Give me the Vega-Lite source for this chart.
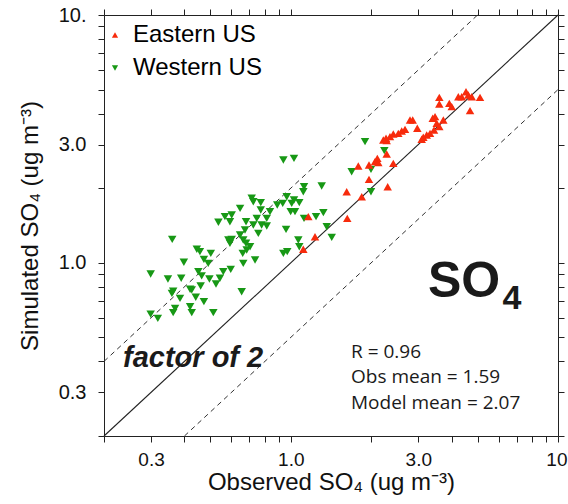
{
  "$schema": "https://vega.github.io/schema/vega-lite/v6.json",
  "width": 454,
  "height": 421,
  "autosize": {"type": "none"},
  "padding": {"left": 104, "top": 15, "right": 10, "bottom": 68},
  "background": "white",
  "config": {
    "view": {"stroke": null},
    "font": "Liberation Sans",
    "axis": {
      "domainColor": "#222",
      "tickColor": "#222",
      "labelColor": "#111",
      "titleColor": "#111",
      "labelFont": "Liberation Sans",
      "titleFont": "Liberation Sans",
      "labelFontSize": 20,
      "titleFontSize": 24,
      "titleFontWeight": "normal",
      "grid": false,
      "tickSize": 6
    }
  },
  "datasets": {
    "obs": [
      {"region": "Western US", "obs": 0.360, "sim": 1.244},
      {"region": "Western US", "obs": 0.299, "sim": 0.901},
      {"region": "Western US", "obs": 0.347, "sim": 0.860},
      {"region": "Western US", "obs": 0.389, "sim": 0.866},
      {"region": "Western US", "obs": 0.398, "sim": 1.005},
      {"region": "Western US", "obs": 0.445, "sim": 1.134},
      {"region": "Western US", "obs": 0.457, "sim": 1.109},
      {"region": "Western US", "obs": 0.502, "sim": 1.092},
      {"region": "Western US", "obs": 0.473, "sim": 1.033},
      {"region": "Western US", "obs": 0.491, "sim": 0.995},
      {"region": "Western US", "obs": 0.451, "sim": 0.921},
      {"region": "Western US", "obs": 0.464, "sim": 0.885},
      {"region": "Western US", "obs": 0.496, "sim": 0.860},
      {"region": "Western US", "obs": 0.543, "sim": 0.866},
      {"region": "Western US", "obs": 0.559, "sim": 0.921},
      {"region": "Western US", "obs": 0.596, "sim": 0.941},
      {"region": "Western US", "obs": 0.525, "sim": 0.821},
      {"region": "Western US", "obs": 0.460, "sim": 0.806},
      {"region": "Western US", "obs": 0.420, "sim": 0.782},
      {"region": "Western US", "obs": 0.363, "sim": 0.769},
      {"region": "Western US", "obs": 0.359, "sim": 0.753},
      {"region": "Western US", "obs": 0.385, "sim": 0.719},
      {"region": "Western US", "obs": 0.441, "sim": 0.726},
      {"region": "Western US", "obs": 0.473, "sim": 0.697},
      {"region": "Western US", "obs": 0.426, "sim": 0.777},
      {"region": "Western US", "obs": 0.420, "sim": 0.665},
      {"region": "Western US", "obs": 0.369, "sim": 0.655},
      {"region": "Western US", "obs": 0.363, "sim": 0.629},
      {"region": "Western US", "obs": 0.426, "sim": 0.629},
      {"region": "Western US", "obs": 0.513, "sim": 0.629},
      {"region": "Western US", "obs": 0.299, "sim": 0.621},
      {"region": "Western US", "obs": 0.318, "sim": 0.597},
      {"region": "Western US", "obs": 0.655, "sim": 0.764},
      {"region": "Western US", "obs": 0.664, "sim": 0.995},
      {"region": "Western US", "obs": 0.735, "sim": 1.026},
      {"region": "Western US", "obs": 0.661, "sim": 1.092},
      {"region": "Western US", "obs": 0.684, "sim": 1.126},
      {"region": "Western US", "obs": 0.584, "sim": 1.236},
      {"region": "Western US", "obs": 0.592, "sim": 1.199},
      {"region": "Western US", "obs": 0.664, "sim": 1.236},
      {"region": "Western US", "obs": 0.646, "sim": 1.295},
      {"region": "Western US", "obs": 0.680, "sim": 1.199},
      {"region": "Western US", "obs": 0.536, "sim": 1.457},
      {"region": "Western US", "obs": 0.567, "sim": 1.535},
      {"region": "Western US", "obs": 0.601, "sim": 1.559},
      {"region": "Western US", "obs": 0.592, "sim": 1.465},
      {"region": "Western US", "obs": 0.680, "sim": 1.465},
      {"region": "Western US", "obs": 0.724, "sim": 1.421},
      {"region": "Western US", "obs": 0.746, "sim": 1.512},
      {"region": "Western US", "obs": 0.756, "sim": 1.315},
      {"region": "Western US", "obs": 0.938, "sim": 2.599},
      {"region": "Western US", "obs": 1.028, "sim": 2.640},
      {"region": "Western US", "obs": 0.714, "sim": 1.821},
      {"region": "Western US", "obs": 0.724, "sim": 1.764},
      {"region": "Western US", "obs": 0.772, "sim": 1.748},
      {"region": "Western US", "obs": 0.646, "sim": 1.659},
      {"region": "Western US", "obs": 0.772, "sim": 1.633},
      {"region": "Western US", "obs": 0.813, "sim": 1.512},
      {"region": "Western US", "obs": 0.778, "sim": 1.421},
      {"region": "Western US", "obs": 0.674, "sim": 1.356},
      {"region": "Western US", "obs": 0.813, "sim": 1.408},
      {"region": "Western US", "obs": 0.836, "sim": 1.608},
      {"region": "Western US", "obs": 0.890, "sim": 1.711},
      {"region": "Western US", "obs": 0.933, "sim": 1.738},
      {"region": "Western US", "obs": 0.966, "sim": 1.848},
      {"region": "Western US", "obs": 1.008, "sim": 1.738},
      {"region": "Western US", "obs": 1.028, "sim": 1.792},
      {"region": "Western US", "obs": 1.076, "sim": 1.748},
      {"region": "Western US", "obs": 0.999, "sim": 1.608},
      {"region": "Western US", "obs": 1.037, "sim": 1.608},
      {"region": "Western US", "obs": 1.121, "sim": 2.028},
      {"region": "Western US", "obs": 1.114, "sim": 1.936},
      {"region": "Western US", "obs": 0.960, "sim": 1.365},
      {"region": "Western US", "obs": 1.067, "sim": 1.236},
      {"region": "Western US", "obs": 0.601, "sim": 1.244},
      {"region": "Western US", "obs": 0.704, "sim": 1.161},
      {"region": "Western US", "obs": 0.938, "sim": 1.092},
      {"region": "Western US", "obs": 0.970, "sim": 1.109},
      {"region": "Western US", "obs": 1.076, "sim": 1.161},
      {"region": "Western US", "obs": 1.243, "sim": 1.535},
      {"region": "Western US", "obs": 1.896, "sim": 3.081},
      {"region": "Western US", "obs": 2.239, "sim": 2.834},
      {"region": "Western US", "obs": 1.690, "sim": 2.331},
      {"region": "Western US", "obs": 1.996, "sim": 2.384},
      {"region": "Western US", "obs": 1.305, "sim": 2.041},
      {"region": "Western US", "obs": 1.324, "sim": 1.593},
      {"region": "Western US", "obs": 1.121, "sim": 1.512},
      {"region": "Western US", "obs": 1.363, "sim": 1.398},
      {"region": "Western US", "obs": 1.423, "sim": 1.267},
      {"region": "Western US", "obs": 1.996, "sim": 1.936},
      {"region": "Eastern US", "obs": 1.163, "sim": 1.535},
      {"region": "Eastern US", "obs": 1.232, "sim": 1.274},
      {"region": "Eastern US", "obs": 1.114, "sim": 1.134},
      {"region": "Eastern US", "obs": 2.285, "sim": 3.110},
      {"region": "Eastern US", "obs": 2.108, "sim": 2.640},
      {"region": "Eastern US", "obs": 2.066, "sim": 2.559},
      {"region": "Eastern US", "obs": 2.126, "sim": 2.535},
      {"region": "Eastern US", "obs": 2.285, "sim": 2.749},
      {"region": "Eastern US", "obs": 2.419, "sim": 2.520},
      {"region": "Eastern US", "obs": 1.962, "sim": 2.481},
      {"region": "Eastern US", "obs": 1.789, "sim": 2.458},
      {"region": "Eastern US", "obs": 1.962, "sim": 2.172},
      {"region": "Eastern US", "obs": 1.619, "sim": 1.936},
      {"region": "Eastern US", "obs": 1.843, "sim": 1.848},
      {"region": "Eastern US", "obs": 2.305, "sim": 2.028},
      {"region": "Eastern US", "obs": 1.627, "sim": 1.512},
      {"region": "Eastern US", "obs": 3.596, "sim": 4.654},
      {"region": "Eastern US", "obs": 3.596, "sim": 4.373},
      {"region": "Eastern US", "obs": 3.920, "sim": 4.402},
      {"region": "Eastern US", "obs": 4.002, "sim": 4.266},
      {"region": "Eastern US", "obs": 4.236, "sim": 4.680},
      {"region": "Eastern US", "obs": 4.362, "sim": 4.680},
      {"region": "Eastern US", "obs": 4.527, "sim": 4.902},
      {"region": "Eastern US", "obs": 4.618, "sim": 4.754},
      {"region": "Eastern US", "obs": 4.755, "sim": 4.680},
      {"region": "Eastern US", "obs": 5.107, "sim": 4.654},
      {"region": "Eastern US", "obs": 4.686, "sim": 4.110},
      {"region": "Eastern US", "obs": 3.466, "sim": 3.887},
      {"region": "Eastern US", "obs": 3.398, "sim": 3.830},
      {"region": "Eastern US", "obs": 3.723, "sim": 3.770},
      {"region": "Eastern US", "obs": 2.859, "sim": 3.770},
      {"region": "Eastern US", "obs": 2.794, "sim": 3.770},
      {"region": "Eastern US", "obs": 2.975, "sim": 3.490},
      {"region": "Eastern US", "obs": 3.517, "sim": 3.656},
      {"region": "Eastern US", "obs": 3.436, "sim": 3.435},
      {"region": "Eastern US", "obs": 3.320, "sim": 3.331},
      {"region": "Eastern US", "obs": 3.226, "sim": 3.279},
      {"region": "Eastern US", "obs": 3.133, "sim": 3.210},
      {"region": "Eastern US", "obs": 3.090, "sim": 3.151},
      {"region": "Eastern US", "obs": 3.596, "sim": 3.542},
      {"region": "Eastern US", "obs": 2.220, "sim": 3.130},
      {"region": "Eastern US", "obs": 2.272, "sim": 3.180},
      {"region": "Eastern US", "obs": 2.351, "sim": 3.228},
      {"region": "Eastern US", "obs": 2.419, "sim": 3.310},
      {"region": "Eastern US", "obs": 2.526, "sim": 3.331},
      {"region": "Eastern US", "obs": 2.601, "sim": 3.403},
      {"region": "Eastern US", "obs": 2.676, "sim": 3.457}
    ]
  },
  "layer": [
    {
      "data": {"values": [
        {"line": "1:1", "x": 0.2, "y": 0.2},
        {"line": "1:1", "x": 10, "y": 10}
      ]},
      "mark": {"type": "line", "color": "#222", "strokeWidth": 1.1},
      "encoding": {
        "x": {
          "field": "x", "type": "quantitative",
          "scale": {"type": "log", "domain": [0.2, 10], "nice": false, "zero": false},
          "axis": {
            "orient": "bottom",
            "title": "Observed SO₄ (ug m⁻³)",
            "values": [0.2, 0.3, 0.4, 0.5, 0.6, 0.7, 0.8, 0.9, 1, 2, 3, 4, 5, 6, 7, 8, 9, 10],
            "labelExpr": "datum.value == 0.3 ? '0.3' : datum.value == 1 ? '1.0' : datum.value == 3 ? '3.0' : datum.value == 10 ? '10' : ''",
            "labelFontSize": 19,
            "labelPadding": 8,
            "titlePadding": 1,
            "labelFlush": true,
            "labelFlushOffset": 9,
            "labelOverlap": false
          }
        },
        "y": {
          "field": "y", "type": "quantitative",
          "scale": {"type": "log", "domain": [0.2, 10], "nice": false, "zero": false},
          "axis": {
            "orient": "left",
            "title": "Simulated SO₄ (ug m⁻³)",
            "values": [0.2, 0.3, 0.4, 0.5, 0.6, 0.7, 0.8, 0.9, 1, 2, 3, 4, 5, 6, 7, 8, 9, 10],
            "labelExpr": "datum.value == 0.3 ? '0.3' : datum.value == 1 ? '1.0' : datum.value == 3 ? '3.0' : datum.value == 10 ? '10.' : ''",
            "labelPadding": 12,
            "titlePadding": 16,
            "labelFlush": false,
            "labelOverlap": false,
            "encode": {"ticks": {"update": {"x2": {"signal": "(datum.value == 0.3 || datum.value == 1 || datum.value == 3 || datum.value == 10) ? -11 : -6"}}}}
          }
        }
      }
    },
    {
      "data": {"values": [
        {"line": "upper", "x": 0.2, "y": 0.4},
        {"line": "upper", "x": 5, "y": 10},
        {"line": "lower", "x": 0.4, "y": 0.2},
        {"line": "lower", "x": 10, "y": 5}
      ]},
      "mark": {"type": "line", "color": "#333", "strokeWidth": 1, "strokeDash": [5, 4]},
      "encoding": {
        "x": {"field": "x", "type": "quantitative", "scale": {"type": "log", "domain": [0.2, 10], "nice": false}, "axis": null},
        "y": {"field": "y", "type": "quantitative", "scale": {"type": "log", "domain": [0.2, 10], "nice": false}, "axis": null},
        "detail": {"field": "line"}
      }
    },
    {
      "data": {"name": "obs"},
      "mark": {"type": "point", "filled": true, "size": 72, "opacity": 1, "strokeWidth": 0},
      "encoding": {
        "x": {
          "field": "obs", "type": "quantitative",
          "scale": {"type": "log", "domain": [0.2, 10], "nice": false},
          "axis": {"orient": "top", "title": null, "labels": false,
            "values": [0.2, 0.3, 0.4, 0.5, 0.6, 0.7, 0.8, 0.9, 1, 2, 3, 4, 5, 6, 7, 8, 9, 10]}
        },
        "y": {
          "field": "sim", "type": "quantitative",
          "scale": {"type": "log", "domain": [0.2, 10], "nice": false},
          "axis": {"orient": "right", "title": null, "labels": false,
            "values": [0.2, 0.3, 0.4, 0.5, 0.6, 0.7, 0.8, 0.9, 1, 2, 3, 4, 5, 6, 7, 8, 9, 10]}
        },
        "color": {
          "field": "region", "type": "nominal",
          "scale": {"domain": ["Eastern US", "Western US"], "range": ["#f72b0c", "#179815"]},
          "legend": {
            "title": null,
            "orient": "none",
            "legendX": -1,
            "legendY": 8,
            "padding": 0,
            "labelFont": "Liberation Sans",
            "labelFontSize": 24,
            "labelOffset": 6,
            "rowPadding": 9,
            "symbolSize": 38,
            "symbolStrokeWidth": 0,
            "encode": {"labels": {"update": {"fill": {"signal": "datum.value == 'Eastern US' ? '#f72b0c' : '#179815'"}}}}
          }
        },
        "shape": {
          "field": "region", "type": "nominal",
          "scale": {"domain": ["Eastern US", "Western US"], "range": ["triangle-up", "triangle-down"]},
          "legend": {
            "title": null,
            "orient": "none",
            "legendX": -1,
            "legendY": 8,
            "padding": 0,
            "labelFont": "Liberation Sans",
            "labelFontSize": 24,
            "labelOffset": 6,
            "rowPadding": 9,
            "symbolSize": 38,
            "symbolStrokeWidth": 0,
            "encode": {"labels": {"update": {"fill": {"signal": "datum.value == 'Eastern US' ? '#f72b0c' : '#179815'"}}}}
          }
        }
      }
    },
    {
      "data": {"values": [{"x": 0.2356, "y": 0.381, "label": "factor of 2"}]},
      "mark": {"type": "text", "align": "left", "baseline": "alphabetic", "font": "Liberation Sans", "fontSize": 29, "fontWeight": "bold", "fontStyle": "italic", "color": "#1a1a1a"},
      "encoding": {
        "x": {"field": "x", "type": "quantitative", "scale": {"type": "log", "domain": [0.2, 10], "nice": false}, "axis": null},
        "y": {"field": "y", "type": "quantitative", "scale": {"type": "log", "domain": [0.2, 10], "nice": false}, "axis": null},
        "text": {"field": "label"}
      }
    },
    {
      "data": {"values": [{"x": 3.26, "y": 0.728, "label": "SO"}]},
      "mark": {"type": "text", "align": "left", "baseline": "alphabetic", "font": "Liberation Sans", "fontSize": 50, "fontWeight": "bold", "color": "#1a1a1a"},
      "encoding": {
        "x": {"field": "x", "type": "quantitative", "scale": {"type": "log", "domain": [0.2, 10], "nice": false}, "axis": null},
        "y": {"field": "y", "type": "quantitative", "scale": {"type": "log", "domain": [0.2, 10], "nice": false}, "axis": null},
        "text": {"field": "label"}
      }
    },
    {
      "data": {"values": [{"x": 6.2, "y": 0.651, "label": "4"}]},
      "mark": {"type": "text", "align": "left", "baseline": "alphabetic", "font": "Liberation Sans", "fontSize": 34, "fontWeight": "bold", "color": "#1a1a1a"},
      "encoding": {
        "x": {"field": "x", "type": "quantitative", "scale": {"type": "log", "domain": [0.2, 10], "nice": false}, "axis": null},
        "y": {"field": "y", "type": "quantitative", "scale": {"type": "log", "domain": [0.2, 10], "nice": false}, "axis": null},
        "text": {"field": "label"}
      }
    },
    {
      "data": {"values": [
        {"x": 1.68, "y": 0.413, "label": "R = 0.96"},
        {"x": 1.68, "y": 0.327, "label": "Obs mean = 1.59"},
        {"x": 1.68, "y": 0.257, "label": "Model mean = 2.07"}
      ]},
      "mark": {"type": "text", "align": "left", "baseline": "alphabetic", "font": "Open Sans", "fontSize": 19, "color": "#1a1a1a"},
      "encoding": {
        "x": {"field": "x", "type": "quantitative", "scale": {"type": "log", "domain": [0.2, 10], "nice": false}, "axis": null},
        "y": {"field": "y", "type": "quantitative", "scale": {"type": "log", "domain": [0.2, 10], "nice": false}, "axis": null},
        "text": {"field": "label"}
      }
    }
  ],
  "resolve": {"axis": {"x": "independent", "y": "independent"}}
}
